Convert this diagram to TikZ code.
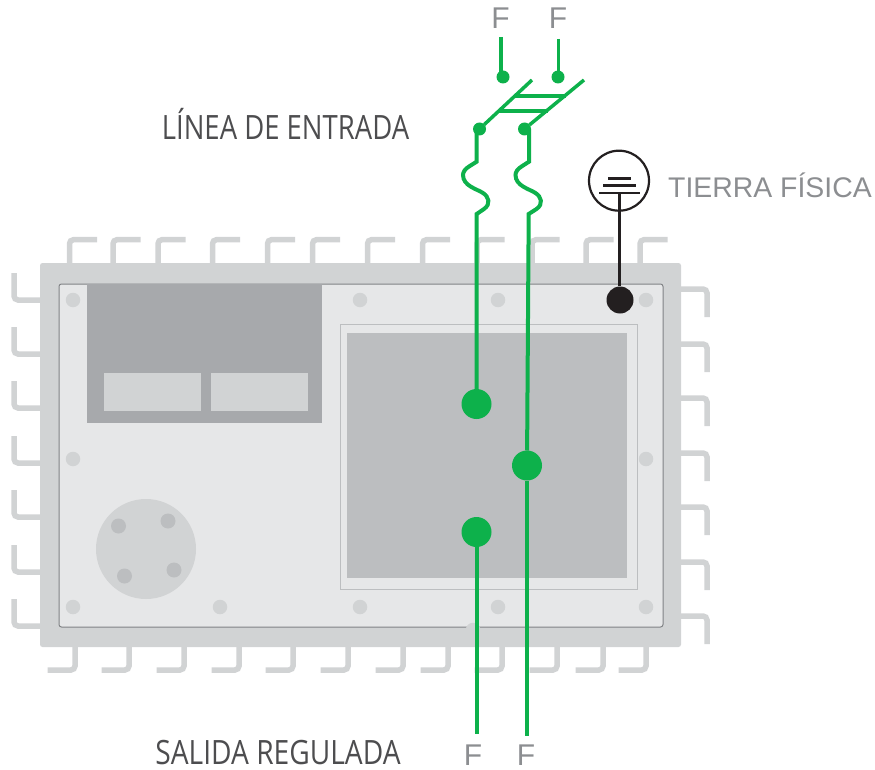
\documentclass[tikz,border=0pt]{standalone}
\usepackage{fontspec}
\setmainfont{Open Sans}
\newfontfamily\graysans{Liberation Sans}
\definecolor{frame}{HTML}{D1D3D4}
\definecolor{plate}{HTML}{E6E7E8}
\definecolor{edge}{HTML}{808285}
\definecolor{darkp}{HTML}{A7A9AC}
\definecolor{midp}{HTML}{BCBEC0}
\definecolor{wire}{HTML}{0DB14B}
\definecolor{ink}{HTML}{231F20}
\definecolor{label}{HTML}{8C8E91}
\definecolor{heading}{HTML}{4D4D4F}
\tikzset{
  pin/.style={draw=frame,line width=5.5pt,rounded corners=4pt},
  screw/.style={circle,fill=frame,minimum size=14.5pt,inner sep=0pt,outer sep=0pt},
  knob/.style={circle,fill=midp,minimum size=15pt,inner sep=0pt,outer sep=0pt},
  wireline/.style={draw=wire,line width=4pt},
  thinwire/.style={draw=wire,line width=3.5pt},
  bigdot/.style={circle,fill=wire,minimum size=30pt,inner sep=0pt,outer sep=0pt},
  smalldot/.style={circle,fill=wire,minimum size=13pt,inner sep=0pt,outer sep=0pt},
  darktext/.style={inner sep=0pt,anchor=base,text=heading,font=\fontsize{33.5}{33.5}\selectfont,xscale=.82},
  graytext/.style={inner sep=0pt,anchor=base,text=label,font=\graysans\fontsize{28.4}{28.4}\selectfont},
  flabel/.style={inner sep=0pt,anchor=base,text=label,font=\graysans\fontsize{30}{30}\selectfont},
}
\begin{document}
\begin{tikzpicture}[x=1pt,y=-1pt]
\useasboundingbox (0,0) rectangle (875,770);
% pins
\foreach \x in {69.5,113,158,212.5,267.5,312.5,367.5,422.5,477,532,586,640}
  \draw[pin] (\x,264) -- (\x,239.7) -- (\x+27.5,239.7);
\foreach \x in {75,129,184,239,293,348,403,448,502,557,603,646}
  \draw[pin] (\x,646) -- (\x,670) -- (\x-27.5,670);
\foreach \y in {273,327,381,436,490,545,599}
  \draw[pin] (14,\y) -- (14,\y+27) -- (41,\y+27);
\foreach \y in {289,344,398,453,507,562,616}
  \draw[pin] (680,\y) -- (707,\y) -- (707,\y+28);
% housing
\fill[frame,rounded corners=2.5pt] (40,263) rectangle (681,647);
\draw[draw=edge,fill=plate,line width=1pt,rounded corners=2.5pt] (59,284) rectangle (663,627);
\fill[darkp] (87,284) rectangle (322,423);
\fill[frame] (104,373) rectangle (201,411);
\fill[frame] (211,373) rectangle (308,411);
\draw[draw=midp,line width=1pt] (340,324) rectangle (637,589);
\fill[midp] (347,333) rectangle (627,578);
\node[circle,fill=frame,minimum size=100pt,inner sep=0pt] (dial) at (146,549) {};
\node[knob] (k1) at (118.5,526) {};
\node[knob] (k2) at (168,521) {};
\node[knob] (k3) at (174,570) {};
\node[knob] (k4) at (124.5,576) {};
\node[screw] (s1) at (73,300) {};
\node[screw] (s2) at (360,300) {};
\node[screw] (s3) at (498,300) {};
\node[screw] (s4) at (646,300) {};
\node[screw] (s5) at (73,459) {};
\node[screw] (s6) at (646,459) {};
\node[screw] (s7) at (73,607) {};
\node[screw] (s8) at (220,607) {};
\node[screw] (s9) at (360,607) {};
\node[screw] (s10) at (498,607) {};
\node[screw] (s11) at (646,607) {};
\node[screw] (s12) at (473,630) {};
% dots
\node[bigdot] (in1) at (476.5,404) {};
\node[bigdot] (in2) at (527,465.5) {};
\node[bigdot] (out1) at (476.5,532) {};
\node[smalldot] (t1) at (503,77) {};
\node[smalldot] (t2) at (558,77) {};
\node[smalldot] (b1) at (479.5,129) {};
\node[smalldot] (b2) at (524.5,129) {};
\node[flabel] (fa) at (500.5,29) {F};
\node[flabel] (fb) at (558,29) {F};
\node[flabel] (fc) at (473,765) {F};
\node[flabel] (fd) at (526,765) {F};
\coordinate (ta) at (501,37);
\coordinate (tb) at (558.5,39);
\coordinate (endl) at (476.5,734);
\coordinate (endr) at (527,736);
% input wires
\draw[thinwire] (ta) -- (ta |- t1);
\draw[thinwire] (tb) -- (tb |- t2);
\draw[thinwire] (b1) -- (532,80);
\draw[thinwire] (b2) -- (584,80);
\draw[thinwire] (515,96) -- (566,96);
\draw[thinwire] (498,111) -- (548,111);
\draw[wireline] (476.7,129) -- (476.7,161.7) -- (469,166.5)
  .. controls (465,169) and (463,172) .. (463,175)
  .. controls (463,186) and (477,189) .. (483,193)
  .. controls (489,197) and (491,204) .. (484,209)
  -- (476.7,214) -- (in1);
\draw[wireline] (529,129) -- (529,161.7) -- (521.5,166.5)
  .. controls (517.5,169) and (515.5,172) .. (515.5,175)
  .. controls (515.5,186) and (529.5,189) .. (535.5,193)
  .. controls (541.5,197) and (543.5,204) .. (536.5,209)
  -- (528.7,214) -- (in2);
\draw[wireline] (out1) -- (endl);
\draw[wireline] (in2) -- (endr);
% ground
\node[circle,draw=ink,line width=2.2pt,minimum size=60pt,inner sep=0pt,fill=white] (gnd) at (619,180.7) {};
\node[circle,fill=ink,minimum size=27pt,inner sep=0pt] (gdot) at (620,300) {};
\draw[ink,line width=2.5pt] (608,178.7) -- (631,178.7);
\draw[ink,line width=2.5pt] (603,185.5) -- (636,185.5);
\draw[ink,line width=2.5pt] (599,193) -- (640,193);
\coordinate (gtop) at (619,193);
\draw[ink,line width=3pt] (gtop) -- (gdot.north -| gtop);
% labels
\node[darktext] (li) at (285.5,140) {LÍNEA DE ENTRADA};
\node[darktext,xscale=1.025] (lo) at (278,764) {SALIDA REGULADA};
\node[graytext] (lg) at (770,197) {TIERRA FÍSICA};
\end{tikzpicture}
\end{document}
